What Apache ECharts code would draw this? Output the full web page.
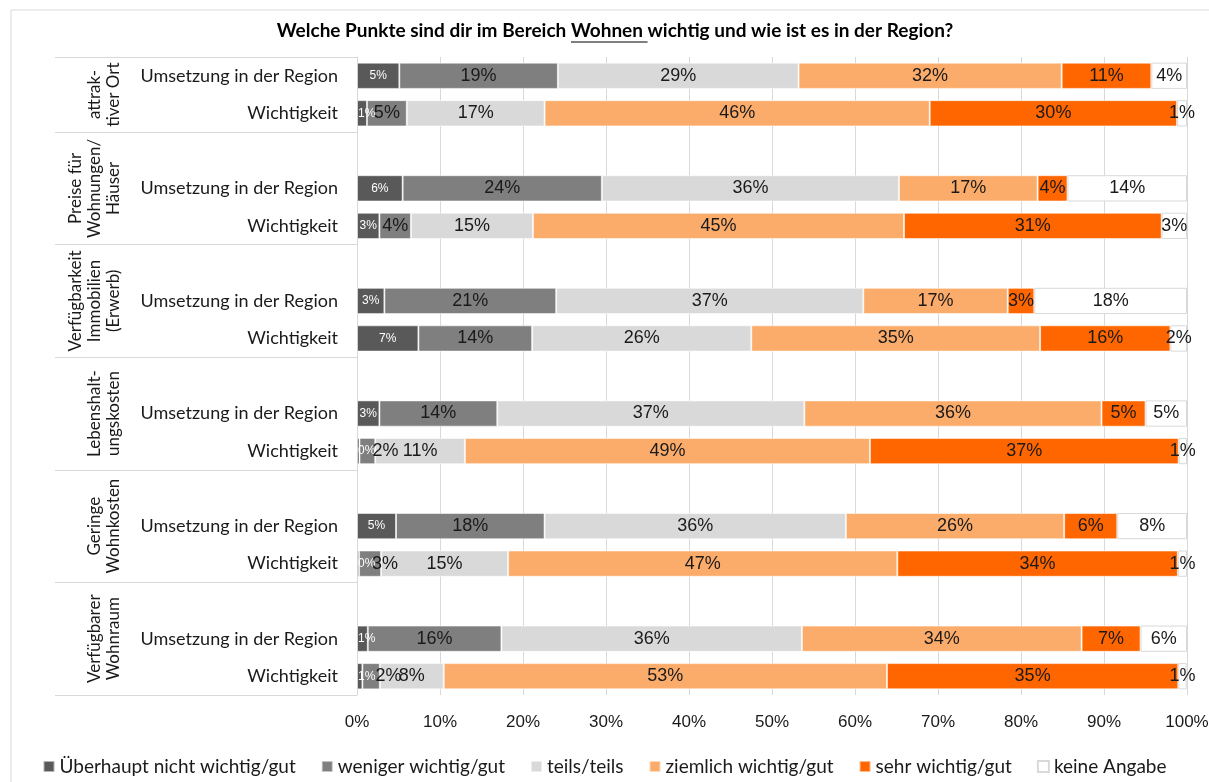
<!DOCTYPE html>
<html>
<head>
<meta charset="utf-8">
<script src="https://cdn.jsdelivr.net/npm/echarts@6/dist/echarts.min.js"></script>
<style>html,body{margin:0;padding:0;background:#fff;overflow:hidden;}#c{width:1209px;height:782px;}</style>
</head>
<body>
<div id="c"></div>
<script>
// ---- data ----
const titlePre = 'Welche Punkte sind dir im Bereich ';
const titleWord = 'Wohnen ';
const titlePost = 'wichtig und wie ist es in der Region?';
const groupNames = ['attrak-\ntiver Ort', 'Preise für\nWohnungen/\nHäuser', 'Verfügbarkeit\nImmobilien\n(Erwerb)', 'Lebenshalt-\nungskosten', 'Geringe\nWohnkosten', 'Verfügbarer\nWohnraum'];
const groupSizes = [2, 3, 3, 3, 3, 3];
const rowLabels = ['Umsetzung in der Region', 'Wichtigkeit', '',
  'Umsetzung in der Region', 'Wichtigkeit', '',
  'Umsetzung in der Region', 'Wichtigkeit', '',
  'Umsetzung in der Region', 'Wichtigkeit', '',
  'Umsetzung in der Region', 'Wichtigkeit', '',
  'Umsetzung in der Region', 'Wichtigkeit'];
const seriesNames = ['Überhaupt nicht wichtig/gut', 'weniger wichtig/gut', 'teils/teils', 'ziemlich wichtig/gut', 'sehr wichtig/gut', 'keine Angabe'];
const ueberhaupt = [5.1, 1.2, null, 5.5, 2.7, null, 3.3, 7.4, null, 2.7, 0.3, null, 4.7, 0.25, null, 1.3, 0.65];
const weniger   = [19.1, 4.8, null, 24.0, 3.8, null, 20.7, 13.7, null, 14.2, 1.9, null, 17.9, 2.65, null, 16.1, 2.1];
const teils     = [29.0, 16.6, null, 35.8, 14.7, null, 37.0, 26.4, null, 37.0, 10.8, null, 36.3, 15.3, null, 36.2, 7.7];
const ziemlich  = [31.7, 46.4, null, 16.7, 44.7, null, 17.4, 34.8, null, 35.8, 48.8, null, 26.3, 46.9, null, 33.7, 53.4];
const sehr      = [10.8, 29.8, null, 3.6, 31.05, null, 3.2, 15.7, null, 5.3, 37.2, null, 6.4, 33.8, null, 7.1, 35.1];
const keine     = [4.3, 1.2, null, 14.4, 3.05, null, 18.4, 2.0, null, 5.0, 1.0, null, 8.4, 1.1, null, 5.6, 1.0];

// ---- derived ----
const values = [ueberhaupt, weniger, teils, ziemlich, sehr, keine];
const colors = ['#595959', '#7f7f7f', '#d9d9d9', '#fcac6a', '#ff6600', '#ffffff'];
const boundaries = [0];
const centers = [];
groupSizes.forEach(s => { const b = boundaries[boundaries.length - 1]; centers.push(b + s / 2); boundaries.push(b + s); });
const totalRows = boundaries[boundaries.length - 1];

const UI_FONT = 'Lato';
const NUM_FONT = 'Liberation Sans';

function baseLabel(i) {
  return {
    show: true,
    position: 'inside',
    formatter: p => Math.round(p.value) + '%',
    color: i === 0 ? '#ffffff' : '#1a1a1a',
    fontSize: i === 0 ? 12 : 18,
    fontFamily: NUM_FONT
  };
}

const series = values.map((arr, i) => ({
  name: seriesNames[i],
  type: 'bar',
  stack: 'all',
  yAxisIndex: 0,
  barCategoryGap: '30%',
  data: arr.map(v => {
    if (v == null) return null;
    // tiny segments: Excel pushes the label to the bar start
    if (i === 0 && v < 2) return { value: v, label: { position: 'insideLeft', distance: 1 } };
    if (i === 1 && v < 3) return { value: v, label: { position: 'insideLeft', distance: 13 } };
    return v;
  }),
  itemStyle: {
    color: colors[i],
    borderColor: i === 5 ? '#d9d9d9' : 'rgba(255,255,255,0.55)',
    borderWidth: 1
  },
  label: baseLabel(i),
  labelLayout: { hideOverlap: false },
  emphasis: { disabled: true }
}));

// title with underline
const titleFont = 'bold 19px ' + UI_FONT;
const cv = document.createElement('canvas').getContext('2d');
cv.font = titleFont;
const wPre = cv.measureText(titlePre).width;
const wWord = cv.measureText(titleWord).width;
const wAll = cv.measureText(titlePre + titleWord + titlePost).width;
const tCx = 615, tCy = 33;
const tLeft = tCx - wAll / 2;

const chart = echarts.init(document.getElementById('c'), null, { renderer: 'canvas' });
chart.setOption({
  backgroundColor: '#ffffff',
  animation: false,
  grid: { left: 357, right: 22, top: 57, bottom: 87, containLabel: false, outerBoundsMode: 'none' },
  legend: {
    top: 752,
    left: 'center',
    itemWidth: 11,
    itemHeight: 11,
    itemGap: 25,
    icon: 'rect',
    textStyle: { fontFamily: UI_FONT, fontSize: 19, color: '#1a1a1a' },
    data: seriesNames
  },
  xAxis: {
    type: 'value',
    min: 0,
    max: 100,
    interval: 10,
    axisLine: { show: false },
    axisTick: { show: false },
    splitLine: { lineStyle: { color: '#d9d9d9', width: 1 } },
    axisLabel: { formatter: v => v + '%', fontFamily: NUM_FONT, fontSize: 17, color: '#1a1a1a', margin: 19 }
  },
  yAxis: [{
    type: 'category',
    inverse: true,
    data: rowLabels,
    axisLine: { show: true, lineStyle: { color: '#d9d9d9' } },
    axisTick: { show: false },
    axisLabel: { fontFamily: UI_FONT, fontSize: 18, color: '#1a1a1a', margin: 19 }
  }, {
    type: 'value',
    position: 'left',
    inverse: true,
    min: 0,
    max: totalRows,
    axisLine: { show: false },
    splitLine: { show: false },
    axisTick: { show: true, length: 302, customValues: boundaries, lineStyle: { color: '#d9d9d9', width: 1 } },
    axisLabel: {
      customValues: centers,
      rotate: 90,
      margin: 234,
      lineHeight: 19,
      fontFamily: UI_FONT,
      fontSize: 17,
      color: '#1a1a1a',
      formatter: v => { const k = centers.indexOf(v); return k >= 0 ? groupNames[k] : ''; }
    }
  }],
  graphic: [
    { type: 'rect', silent: true, z: -1, shape: { x: 11, y: 10, width: 1250, height: 820 }, style: { fill: 'none', stroke: '#d9d9d9', lineWidth: 1 } },
    { type: 'text', left: tLeft, top: tCy - 12, style: { text: titlePre + titleWord + titlePost, font: titleFont, fill: '#000' } },
    { type: 'line', silent: true, shape: { x1: tLeft + wPre, y1: tCy + 9, x2: tLeft + wPre + wWord, y2: tCy + 9 }, style: { stroke: '#000', lineWidth: 1.2 } }
  ],
  series: series
});
</script>
</body>
</html>
